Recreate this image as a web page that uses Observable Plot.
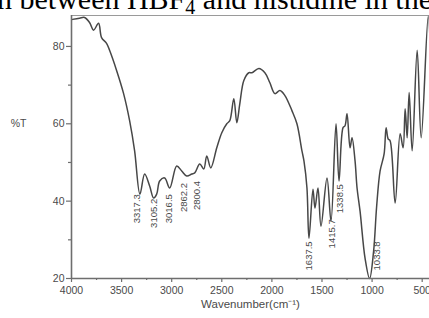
<!DOCTYPE html>
<html>
<head>
<meta charset="utf-8">
<script src="https://cdn.jsdelivr.net/npm/d3@7"></script>
<script src="https://cdn.jsdelivr.net/npm/@observablehq/plot@0.6"></script>
<style>
  html, body { margin: 0; padding: 0; background: #fff; overflow: hidden; }
  #wrap { position: relative; width: 429px; height: 318px; overflow: hidden; }
  #caption { position: absolute; left: -3px; top: -16px; font-family: "Liberation Serif", "Times New Roman", serif; font-size: 30px; line-height: 30px; white-space: nowrap; color: #000; }
  #caption sub { font-size: 20px; line-height: 0; vertical-align: -5px; }
  #chart { position: absolute; left: 0; top: 0; }
</style>
</head>
<body>
<div id="wrap">
  <div id="chart"></div>
  <div id="caption">n between HBF<sub>4</sub> and histidine in the</div>
</div>
<script>
// Spectrum
const wavenumber = [3990, 3920, 3870, 3820, 3780, 3730, 3700, 3650, 3620, 3550, 3480, 3420, 3370, 3317,
  3270, 3220, 3180, 3150, 3120, 3070, 3020, 2950, 2900, 2850, 2800, 2770, 2720, 2680, 2650, 2610,
  2550, 2500, 2450, 2420, 2380, 2350, 2320, 2280, 2230, 2200, 2130, 2070, 2020, 1970, 1920, 1870,
  1800, 1750, 1700, 1680, 1650, 1630, 1590, 1570, 1540, 1510, 1450, 1410, 1360, 1330, 1290, 1270,
  1250, 1220, 1200, 1170, 1150, 1120, 1070, 1025, 985, 955, 920, 880, 860, 840, 820, 770, 720, 690,
  670, 650, 630, 600, 550, 510, 440, 410];
const transmittance = [87.0, 87.3, 87.5, 86.2, 84.2, 86.0, 82.3, 80.8, 79.0, 73.8, 67.8, 60.8, 53.0, 41.8,
  47.0, 43.9, 40.8, 41.8, 45.2, 46.0, 43.4, 49.1, 47.8, 46.5, 47.0, 47.3, 49.6, 48.3, 51.7, 48.6,
  53.8, 57.7, 60.0, 60.8, 66.5, 60.3, 65.2, 71.2, 73.2, 73.2, 74.3, 73.2, 70.6, 67.8, 68.6, 67.3,
  63.4, 60.0, 53.0, 50.4, 43.4, 30.4, 43.1, 38.2, 43.4, 33.5, 46.0, 34.8, 60.0, 45.2, 59.0, 59.5,
  62.6, 53.8, 56.4, 50.4, 43.4, 37.4, 25.2, 20.0, 27.0, 38.5, 47.8, 52.2, 59.0, 56.1, 55.6, 39.5, 57.4, 53.8,
  63.9, 56.4, 68.1, 53.0, 79.0, 56.4, 87.8, 67.8];

// Peak annotations (label text, position where drawn)
const peakLabels = ["3317.3", "3105.2", "3016.5", "2862.2", "2800.4", "1637.5", "1415.7", "1338.5", "1033.8"];
const peakLabelX = [3345, 3180, 3025, 2875, 2745, 1630, 1405, 1325, 950];
const peakLabelY = [41.8, 40.6, 41.8, 44.7, 45.2, 29.6, 35.3, 44.4, 29.6];

const xMajor = [4000, 3500, 3000, 2500, 2000, 1500, 1000, 500];
const xMinor = [3750, 3250, 2750, 2250, 1750, 1250, 750];
const yMajor = [20, 40, 60, 80];
const yMinor = [30, 50, 70];

const spectrum = wavenumber.map((w, i) => ({w, t: transmittance[i]}));
const peaks = peakLabels.map((l, i) => ({l, x: peakLabelX[i], y: peakLabelY[i]}));

const axisColor = "#6e6e6e";
const textColor = "#4a4a4a";

const chart = Plot.plot({
  width: 429,
  height: 318,
  marginLeft: 71,
  marginRight: 0,
  marginTop: 15,
  marginBottom: 40,
  style: {fontFamily: "'Liberation Sans', Arial, sans-serif", background: "transparent"},
  x: {domain: [4000, 427], axis: null},
  y: {domain: [20, 88], axis: null},
  marks: [
    Plot.ruleY([88], {stroke: "#9a9a9a", strokeWidth: 1.2}),
    Plot.line(spectrum, {x: "w", y: "t", curve: "catmull-rom", stroke: "#474747", strokeWidth: 1.5}),
    Plot.axisX({ticks: xMajor, tickSize: 4, tickPadding: 4, tickFormat: d => String(d), fontSize: 10.5, stroke: axisColor, fill: textColor, strokeWidth: 1.2}),
    Plot.axisX({ticks: xMinor, tickSize: 2, tickFormat: () => "", stroke: axisColor, strokeWidth: 1.2}),
    Plot.axisY({ticks: yMajor, tickSize: 5, tickPadding: 2, fontSize: 10.5, stroke: axisColor, fill: textColor, strokeWidth: 1.2}),
    Plot.axisY({ticks: yMinor, tickSize: 3, tickFormat: () => "", stroke: axisColor, strokeWidth: 1.2}),
    Plot.ruleY([20], {stroke: axisColor, strokeWidth: 1.6}),
    Plot.ruleX([4000], {stroke: axisColor, strokeWidth: 1.6}),
    Plot.text(peaks, {x: "x", y: "y", text: "l", rotate: -90, textAnchor: "end", fontSize: 9.5, fill: textColor}),
    Plot.text(["%T"], {y: () => 60, frameAnchor: "left", dx: -53, textAnchor: "middle", fontSize: 10.5, fill: textColor}),
    Plot.text(["Wavenumber(cm\u207B\u00B9)"], {frameAnchor: "bottom", dy: 29, textAnchor: "middle", fontSize: 11.5, fill: textColor})
  ]
});
document.getElementById("chart").appendChild(chart);
</script>
</body>
</html>
